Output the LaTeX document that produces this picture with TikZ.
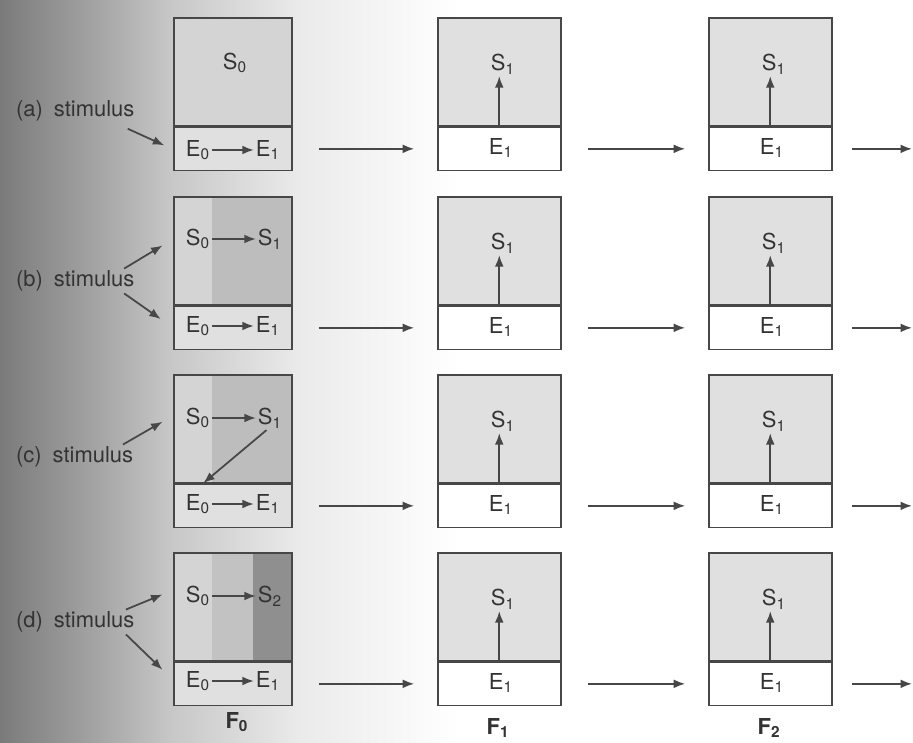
\documentclass[tikz,border=0pt]{standalone}
\usepackage{fontspec}
\setmainfont{TeX Gyre Heros}
\usetikzlibrary{arrows.meta}

\colorlet{linec}{black!72}
\colorlet{inkc}{black!80}
\colorlet{statec}{black!12}
\colorlet{lightc}{black!17}
\colorlet{midc}{black!26}
\colorlet{darkc}{black!44}

\tikzset{
    lbl/.style={text=inkc, font=\fontsize{12.5}{15}\selectfont, inner sep=1pt},
    flow/.style={draw=linec, line width=1pt, -{Latex[length=6.5pt,width=5pt]}},
    hop/.style={flow, shorten <=15pt, shorten >=13pt},
    sbox/.style={draw=linec, line width=0.9pt, fill=statec, minimum width=2.46cm,
        minimum height=2.16cm, inner sep=0pt, anchor=north west},
    ebox/.style={draw=linec, line width=0.9pt, fill=white, minimum width=2.46cm,
        minimum height=0.86cm, inner sep=0pt, anchor=north west},
    fsbox/.style={sbox, minimum width=2.36cm, fill=lightc},
    febox/.style={ebox, minimum width=2.36cm, fill=black!12},
}

\begin{document}
\begin{tikzpicture}[x=0.02cm, y=-0.02cm]
    \useasboundingbox (0,0) rectangle (913,743);
    % scanned page fade on the left
    \shade[left color=black!52, right color=black!35] (0,0) rectangle (100,743);
    \shade[left color=black!35, right color=black!22] (100,0) rectangle (170,743);
    \shade[left color=black!22, right color=black!8] (170,0) rectangle (300,743);
    \shade[left color=black!8, right color=white] (300,0) rectangle (460,743);

    % F1 and F2 columns
    \foreach \r/\t in {a/17,b/196,c/374,d/552} {
        \foreach \c/\x/\m in {1/437/498,2/708/769} {
            \node[sbox] (s\c\r) at (\x,\t) {};
            \node[ebox] (e\c\r) at (s\c\r.south west) {};
            \node[lbl] (S\c\r) at (\m+5,\t+47) {S\textsubscript{1}};
            \node[lbl] (E\c\r) at (\m+3,\t+131) {E\textsubscript{1}};
            \draw[flow] (e\c\r.north) -- (e\c\r.north |- S\c\r.south);
        }
        \coordinate (out\r) at (912,0 |- e2\r.east);
        \draw[hop] (e1\r.east) -- (e2\r.west);
        \draw[flow, shorten <=11pt] (e2\r.east) -- (out\r);
    }

    % F0 column, row (a)
    \node[fsbox] (s0a) at (173,17) {};
    \node[febox] (e0a) at (s0a.south west) {};
    \node[lbl] (S0a) at (235,63) {S\textsubscript{0}};
    \node[lbl] (E0a) at (198,150) {E\textsubscript{0}};
    \node[lbl] (E1a) at (268,150) {E\textsubscript{1}};
    \draw[flow] (E0a) -- (E1a);
    \node[lbl, anchor=west] (stima) at (14,111) {(a)\enspace stimulus};
    \draw[flow] ([xshift=-5pt,yshift=-3pt]stima.south east) -- ([xshift=-5pt,yshift=2pt]e0a.west);
    \draw[hop] (e0a.east) -- (e1a.west);

    % row (b)
    \fill[lightc] (173,196) rectangle (212,304);
    \fill[midc] (212,196) rectangle (291,304);
    \node[fsbox, fill=none] (s0b) at (173,196) {};
    \node[febox] (e0b) at (s0b.south west) {};
    \node[lbl] (S0b) at (198,239) {S\textsubscript{0}};
    \node[lbl] (S1b) at (270,239) {S\textsubscript{1}};
    \draw[flow] (S0b) -- (S1b);
    \node[lbl] (E0b) at (198,326) {E\textsubscript{0}};
    \node[lbl] (E1b) at (268,326) {E\textsubscript{1}};
    \draw[flow] (E0b) -- (E1b);
    \node[lbl, anchor=west] (stimb) at (14,281) {(b)\enspace stimulus};
    \draw[flow] ([xshift=-7pt]stimb.north east) -- ([xshift=-6pt,yshift=3pt]s0b.west);
    \draw[flow] ([xshift=-7pt]stimb.south east) -- ([xshift=-7pt,yshift=5pt]e0b.west);
    \draw[hop] (e0b.east) -- (e1b.west);

    % row (c)
    \fill[lightc] (173,374) rectangle (212,482);
    \fill[midc] (212,374) rectangle (291,482);
    \node[fsbox, fill=none] (s0c) at (173,374) {};
    \node[febox] (e0c) at (s0c.south west) {};
    \node[lbl] (S0c) at (198,418) {S\textsubscript{0}};
    \node[lbl] (S1c) at (270,418) {S\textsubscript{1}};
    \draw[flow] (S0c) -- (S1c);
    \node[lbl] (E0c) at (198,504) {E\textsubscript{0}};
    \node[lbl] (E1c) at (268,504) {E\textsubscript{1}};
    \draw[flow] (E0c) -- (E1c);
    \draw[flow] ([xshift=-2pt]S1c.south) -- ([xshift=3pt,yshift=5pt]E0c.north);
    \node[lbl, anchor=west] (stimc) at (14,457) {(c)\enspace stimulus};
    \draw[flow] ([xshift=-7pt]stimc.north east) -- ([xshift=-6pt,yshift=4pt]s0c.west);
    \draw[hop] (e0c.east) -- (e1c.west);

    % row (d)
    \fill[lightc] (173,552) rectangle (212,660);
    \fill[black!24] (212,552) rectangle (253,660);
    \fill[darkc] (253,552) rectangle (291,660);
    \node[fsbox, fill=none] (s0d) at (173,552) {};
    \node[febox] (e0d) at (s0d.south west) {};
    \node[lbl] (S0d) at (198,596) {S\textsubscript{0}};
    \node[lbl] (S2d) at (270,596) {S\textsubscript{2}};
    \draw[flow] (S0d) -- (S2d);
    \node[lbl] (E0d) at (198,681) {E\textsubscript{0}};
    \node[lbl] (E1d) at (268,681) {E\textsubscript{1}};
    \draw[flow] (E0d) -- (E1d);
    \node[lbl, anchor=west] (stimd) at (14,622) {(d)\enspace stimulus};
    \draw[flow] ([xshift=-6pt]stimd.north east) -- ([xshift=-6pt,yshift=7pt]s0d.west);
    \draw[flow] ([xshift=-6pt]stimd.south east) -- ([xshift=-6pt,yshift=8pt]e0d.west);
    \draw[hop] (e0d.east) -- (e1d.west);

    % frame labels
    \node[lbl] (F0) at (237,722) {\textbf{F\textsubscript{0}}};
    \node[lbl] (F1) at (498,728) {\textbf{F\textsubscript{1}}};
    \node[lbl] (F2) at (769,728) {\textbf{F\textsubscript{2}}};
\end{tikzpicture}
\end{document}
